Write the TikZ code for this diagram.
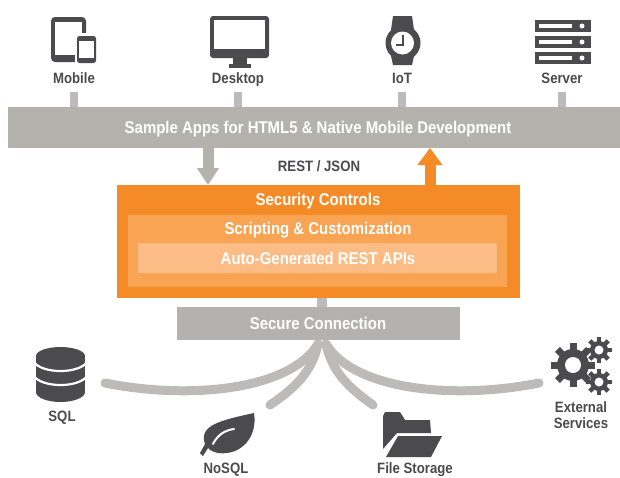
\documentclass[tikz,border=0pt]{standalone}
\usepackage{fontspec}
\usepackage{graphicx}
\setmainfont{Liberation Sans}
\usetikzlibrary{arrows.meta}
\definecolor{barGray}{HTML}{B5B2AE}
\definecolor{secGray}{HTML}{B4B2B1}
\definecolor{lineGray}{HTML}{BDBBB9}
\definecolor{iconDark}{HTML}{4B4B4D}
\definecolor{orangeA}{HTML}{F58B26}
\definecolor{orangeB}{HTML}{F8A452}
\definecolor{orangeC}{HTML}{FBBC85}
\newcommand{\nar}[1]{\scalebox{.88}[1]{#1}}
\tikzset{
  lbl/.style={font=\bfseries\fontsize{15}{16}\selectfont, text=iconDark, inner sep=0pt, anchor=base},
  boxtext/.style={font=\bfseries\fontsize{17}{18}\selectfont, text=white, inner sep=0pt, anchor=base},
  box/.style={inner sep=0pt, outer sep=0pt, anchor=north west},
  stub/.style={draw=lineGray, line width=8pt},
  curve/.style={draw=lineGray, line width=9pt, line cap=round},
  flowG/.style={draw=barGray, line width=11pt, -{Triangle[width=21pt,length=17pt]}},
  flowO/.style={draw=orangeA, line width=11pt, -{Triangle[width=24pt,length=17pt]}},
  ico/.style={fill=iconDark, draw=none},
  hole/.style={fill=white, draw=none},
}
\begin{document}
\begin{tikzpicture}[x=1pt,y=-1pt]
\useasboundingbox (0,0) rectangle (620,477);
\fill[white] (0,0) rectangle (620,477);

% boxes
\node[box, fill=barGray, minimum width=612pt, minimum height=41pt] (bar) at (8,107) {};
\node[boxtext] (barT) at (318,133) {\nar{Sample Apps for HTML5 \& Native Mobile Development}};
\node[box, fill=orangeA, minimum width=403pt, minimum height=113pt] (sec) at (117,185) {};
\node[box, fill=orangeB, minimum width=379pt, minimum height=72pt] (scr) at (128,215) {};
\node[box, fill=orangeC, minimum width=359pt, minimum height=30pt] (api) at (138,243) {};
\node[boxtext] (secT) at (318,205) {\nar{Security Controls}};
\node[boxtext] (scrT) at (318,234) {\nar{Scripting \& Customization}};
\node[boxtext] (apiT) at (318,264) {\nar{Auto-Generated REST APIs}};
\node[box, fill=secGray, minimum width=283pt, minimum height=33pt] (con) at (177,307) {};
\node[boxtext] (conT) at (318,329) {\nar{Secure Connection}};
\node[lbl] (rest) at (319,171) {\nar{REST / JSON}};

% top labels
\node[lbl] (mobile) at (74,83) {\nar{Mobile}};
\node[lbl] (desktop) at (238,83) {\nar{Desktop}};
\node[lbl] (iot) at (402,83) {\nar{IoT}};
\node[lbl] (server) at (562,83) {\nar{Server}};
\foreach \n in {mobile,desktop,iot,server}
  \draw[stub] (\n.south |- 0,92) -- (\n.south |- bar.north);

% REST arrows
\coordinate (gx) at (208,0);
\coordinate (ox) at (430,0);
\draw[flowG] (gx |- bar.south) -- (gx |- sec.north);
\draw[flowO] (ox |- sec.north) -- (ox |- bar.south);

% hub and curves
\coordinate (hubT) at (322,298);
\coordinate (hubL) at (318,344);
\coordinate (hubR) at (326,344);
\coordinate (eSQL) at (105,383);
\coordinate (eExt) at (539,383);
\coordinate (eNo) at (270,405);
\coordinate (eFile) at (373,405);
\draw[stub, line width=10pt] (hubT) -- (hubT |- con.north);
\draw[curve] (eSQL) .. controls (190,400) and (290,390) .. (hubL);
\draw[curve] (eExt) .. controls (454,400) and (354,390) .. (hubR);
\draw[curve] (eNo) .. controls (295,388) and (312,372) .. (hubL);
\draw[curve] (eFile) .. controls (349,388) and (332,372) .. (hubR);

% Mobile icon
\fill[ico, rounded corners=4pt] (51,17) rectangle (86,62);
\fill[hole] (55,22) rectangle (82,55);
\fill[hole] (75,33) rectangle (99,65);
\fill[ico, rounded corners=2.5pt] (77,36) rectangle (96,63);
\fill[hole] (79,41) rectangle (94,58);

% Desktop icon
\fill[ico, rounded corners=3pt] (210,16) rectangle (269,58);
\fill[hole] (214,20) rectangle (265,49);
\fill[ico] (233,58) rectangle (247,64);
\fill[ico] (229,64) rectangle (251,68);

% Watch icon
\fill[ico] (393,16) -- (412,16) -- (414,30) -- (391,30) -- cycle;
\fill[ico] (391,56) -- (414,56) -- (412,65) -- (393,65) -- cycle;
\fill[ico] (403,43) circle (17.5pt);
\fill[hole] (402.5,43) circle (11.5pt);
\draw[iconDark, line width=2pt] (403,35) -- (403,45) -- (396,45);

% Server icon
\foreach \y in {20,36,52} {
  \fill[ico] (535,\y) rectangle (591,\y+12);
  \fill[hole] (539,\y+4) rectangle (572,\y+7.5);
  \fill[hole] (582,\y+6) circle (2.5pt);
}

% SQL icon
\fill[ico] (60.5,356) ellipse (24.5pt and 9pt);
\fill[ico] (36,356) rectangle (85,392);
\fill[ico] (60.5,392) ellipse (24.5pt and 10pt);
\draw[white, line width=2.2pt] (34,362) .. controls (42,374) and (79,374) .. (87,362);
\draw[white, line width=2.2pt] (34,376) .. controls (42,388) and (79,388) .. (87,376);

% Leaf icon
\fill[ico] (254,413) .. controls (258,438) and (240,456) .. (218,453)
  .. controls (213,452) and (210,450) .. (208,448) -- (203,456) -- (200,453) -- (205,444)
  .. controls (198,425) and (222,420) .. (254,413) -- cycle;
\draw[white, line width=2pt, line cap=round] (213,444) .. controls (218,434) and (226,430) .. (234,429);

% Folder icon
\fill[ico] (383,416) -- (385,412) -- (400,412) -- (405,420) -- (430,420) -- (431,433) -- (397,433) -- (383,449) -- cycle;
\fill[ico] (398,436) -- (442,436) -- (431,457) -- (386,457) -- cycle;

% Gears
\foreach \cx/\cy/\R/\r/\t/\w in {573/365/16/8/7/7, 599/350/9/4.5/5/4.5, 599/382/9/4.5/5/4.5} {
  \foreach \a in {0,45,...,315}
    \fill[ico, rotate around={\a:(\cx,\cy)}] (\cx-\w/2,\cy-\R-\t+1) rectangle (\cx+\w/2,\cy);
  \fill[ico] (\cx,\cy) circle (\R pt);
  \fill[hole] (\cx,\cy) circle (\r pt);
}

% bottom labels
\node[lbl] (sql) at (62,421) {\nar{SQL}};
\node[lbl] (nosql) at (226,473) {\nar{NoSQL}};
\node[lbl] (file) at (415,473) {\nar{File Storage}};
\node[lbl] (ext) at (581,412) {\nar{External}};
\node[lbl] (svc) at (581,428) {\nar{Services}};
\end{tikzpicture}
\end{document}
